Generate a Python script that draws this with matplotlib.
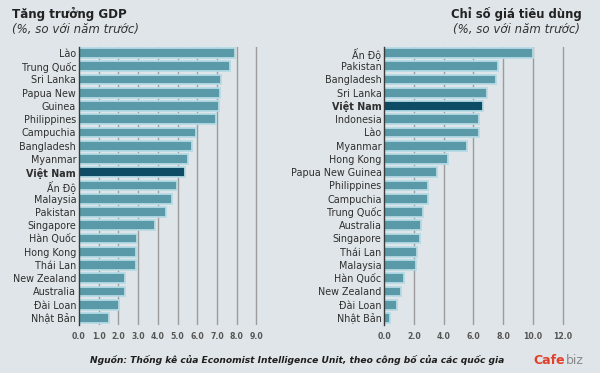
import matplotlib
matplotlib.use("Agg")
import matplotlib.pyplot as plt

# ---- data ----
gdp_countries = ["Lào", "Trung Quốc", "Sri Lanka", "Papua New", "Guinea", "Philippines",
                 "Campuchia", "Bangladesh", "Myanmar", "Việt Nam", "Ấn Độ", "Malaysia",
                 "Pakistan", "Singapore", "Hàn Quốc", "Hong Kong", "Thái Lan",
                 "New Zealand", "Australia", "Đài Loan", "Nhật Bản"]
gdp_values = [7.9, 7.65, 7.2, 7.15, 7.1, 6.95, 5.95, 5.75, 5.55, 5.4, 4.95, 4.7,
              4.4, 3.85, 2.95, 2.9, 2.88, 2.33, 2.33, 2.03, 1.5]

cpi_countries = ["Ấn Độ", "Pakistan", "Bangladesh", "Sri Lanka", "Việt Nam", "Indonesia",
                 "Lào", "Myanmar", "Hong Kong", "Papua New Guinea", "Philippines",
                 "Campuchia", "Trung Quốc", "Australia", "Singapore", "Thái Lan",
                 "Malaysia", "Hàn Quốc", "New Zealand", "Đài Loan", "Nhật Bản"]
cpi_values = [10.0, 7.67, 7.52, 6.93, 6.62, 6.39, 6.37, 5.54, 4.31, 3.57, 2.94,
              2.96, 2.6, 2.47, 2.4, 2.22, 2.13, 1.35, 1.12, 0.83, 0.38]

gdp_ticks = [0, 1, 2, 3, 4, 5, 6, 7, 8, 9]
cpi_ticks = [0, 2, 4, 6, 8, 10, 12]
highlight = "Việt Nam"

# ---- style ----
BG = "#dfe5e8"
BAR = "#5a9aa8"
HL = "#0e4b64"
EDGE = "#b4dbe6"
GRID = "#9c9c9c"
TXT = "#2e2e2e"
FONT = ["DejaVu Sans"]

W, H = 600, 373
fig = plt.figure(figsize=(W / 100, H / 100), dpi=100, facecolor=BG)


def px_axes(x0, y0, x1, y1):
    return fig.add_axes([x0 / W, 1 - y1 / H, (x1 - x0) / W, (y1 - y0) / H])


def draw(ax, countries, values, ticks, xmax):
    ax.set_facecolor(BG)
    n = len(countries)
    ypos = list(range(n))
    colors = [HL if c == highlight else BAR for c in countries]
    for t in ticks[1:]:
        ax.axvline(t, color=GRID, lw=1.0, zorder=1)
    ax.barh(ypos, values, height=0.74, color=colors, edgecolor=EDGE,
            linewidth=1.3, zorder=2)
    ax.set_xlim(0, xmax)
    ax.set_ylim(n - 1 + 0.53, -0.45)
    ax.set_yticks(ypos)
    ax.set_yticklabels(countries, family=FONT, fontsize=6.9, color=TXT)
    for lab in ax.get_yticklabels():
        if lab.get_text() == highlight:
            lab.set_fontweight("bold")
    ax.set_xticks(ticks)
    ax.set_xticklabels([f"{t:.1f}" for t in ticks], family=FONT, fontsize=5.6,
                       fontweight="bold", color="#555555")
    ax.tick_params(axis="both", length=0, pad=2)
    ax.tick_params(axis="x", pad=5)
    for s in ["top", "right", "bottom"]:
        ax.spines[s].set_visible(False)
    ax.spines["left"].set_color("#3a3a3a")
    ax.spines["left"].set_linewidth(1.0)
    ax.spines["left"].set_zorder(3)


ax1 = px_axes(79, 47, 79 + 9.6 * 19.7, 325)
draw(ax1, gdp_countries, gdp_values, gdp_ticks, 9.6)

ax2 = px_axes(384.3, 47, 384.3 + 12.4 * 14.86, 325)
draw(ax2, cpi_countries, cpi_values, cpi_ticks, 12.4)

# titles
fig.text(12 / W, 1 - 14 / H, "Tăng trưởng GDP", family=FONT, fontsize=8.6,
         fontweight="bold", color="#222222", ha="left", va="center")
fig.text(12 / W, 1 - 30 / H, "(%, so với năm trước)", family=FONT, fontsize=8.5,
         style="italic", color="#333333", ha="left", va="center")
fig.text(582 / W, 1 - 14 / H, "Chỉ số giá tiêu dùng", family=FONT, fontsize=8.4,
         fontweight="bold", color="#222222", ha="right", va="center")
fig.text(580 / W, 1 - 30 / H, "(%, so với năm trước)", family=FONT, fontsize=8.5,
         style="italic", color="#333333", ha="right", va="center")

# footer
fig.text(90 / W, 1 - 360 / H,
         "Nguồn: Thống kê của Economist Intelligence Unit, theo công bố của các quốc gia",
         family=FONT, fontsize=6.6, fontweight="bold", style="italic",
         color="#1e1e1e", ha="left", va="center")
t1 = fig.text(533 / W, 1 - 361 / H, "Cafe", family=FONT, fontsize=9,
              fontweight="bold", color="#e2402b", ha="left", va="center")
fig.canvas.draw()
bb = t1.get_window_extent(renderer=fig.canvas.get_renderer())
fig.text(bb.x1 / W + 1 / W, 1 - 361 / H, "biz", family=FONT, fontsize=9,
         color="#8a8a8a", ha="left", va="center")

fig.savefig("out.png", dpi=100, facecolor=BG)
